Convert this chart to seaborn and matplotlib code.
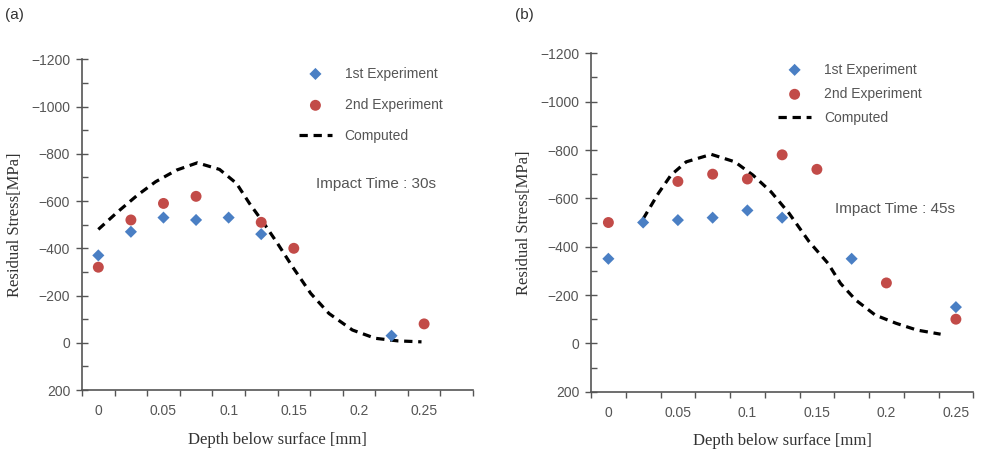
import numpy as np
import pandas as pd
import seaborn as sns
import matplotlib.pyplot as plt
from matplotlib.ticker import MultipleLocator, FixedLocator

# panel (a) - impact time 30s
depth_a_1st = [0, 0.025, 0.05, 0.075, 0.1, 0.125, 0.225]
stress_a_1st = [-370, -470, -530, -520, -530, -460, -30]
depth_a_2nd = [0, 0.025, 0.05, 0.075, 0.125, 0.15, 0.25]
stress_a_2nd = [-320, -520, -590, -620, -510, -400, -80]
depth_a_comp = [0, 0.015, 0.03, 0.044, 0.06, 0.076, 0.093, 0.106, 0.116, 0.127,
                0.137, 0.149, 0.163, 0.177, 0.195, 0.2125, 0.23, 0.248]
stress_a_comp = [-480, -555, -625, -682, -731, -762, -734, -675, -590, -506,
                 -425, -322, -209, -124, -54, -19, -8, -4]

# panel (b) - impact time 45s
depth_b_1st = [0, 0.025, 0.05, 0.075, 0.1, 0.125, 0.175, 0.25]
stress_b_1st = [-350, -500, -510, -520, -550, -520, -350, -150]
depth_b_2nd = [0, 0.05, 0.075, 0.1, 0.125, 0.15, 0.2, 0.25]
stress_b_2nd = [-500, -670, -700, -680, -780, -720, -250, -100]
depth_b_comp = [0.025, 0.036, 0.045, 0.056, 0.074, 0.091, 0.104, 0.117, 0.130,
                0.1445, 0.158, 0.167, 0.178, 0.192, 0.207, 0.222, 0.239]
stress_b_comp = [-515, -621, -696, -751, -782, -751, -696, -627, -538,
                 -420, -331, -248, -179, -117, -83, -55, -38]

x_labels = ['0', '0.05', '0.1', '0.15', '0.2', '0.25']

sns.set_style('white')
plt.rcParams['font.family'] = ['Liberation Sans', 'DejaVu Sans']

blue = '#4a7fc4'
red = '#c24b48'
gray_txt = '#555555'
axis_col = '#555555'

fig = plt.figure(figsize=(9.86, 4.53), dpi=100)
ax_a = fig.add_axes([0.0832, 0.139, 0.3965, 0.730])
ax_b = fig.add_axes([0.5994, 0.1353, 0.3877, 0.7470])


def draw(ax, d1, s1, d2, s2, dc, sc, xmax, impact, leg_anchor, legspace, imp_pos):
    comp = pd.DataFrame({'depth': dc, 'stress': sc})
    sns.lineplot(data=comp, x='depth', y='stress', ax=ax, color='black',
                 sort=False, estimator=None, label='Computed')
    line = ax.lines[-1]
    line.set_linewidth(2.3)
    line.set_dashes([2.6, 1.8])  # scaled by linewidth
    line.set_dash_capstyle('butt')
    sns.scatterplot(x=d1, y=s1, ax=ax, marker='D', s=38, color=blue,
                    edgecolor='none', label='1st Experiment', zorder=3)
    sns.scatterplot(x=d2, y=s2, ax=ax, marker='o', s=62, color=red,
                    edgecolor='none', label='2nd Experiment', zorder=4)

    ax.set_xlim(-0.0125, xmax)
    ax.set_ylim(200, -1200)
    ax.yaxis.set_major_locator(MultipleLocator(200))
    ax.yaxis.set_minor_locator(MultipleLocator(100))
    ax.set_xticks([0, 0.05, 0.1, 0.15, 0.2, 0.25])
    ax.set_xticklabels(x_labels)
    ax.xaxis.set_minor_locator(FixedLocator(np.arange(-0.0125, xmax + 0.001, 0.025)))
    ax.tick_params(axis='x', which='major', length=0, pad=10, labelsize=10, colors=gray_txt)
    ax.tick_params(axis='x', which='minor', length=4, width=1, direction='out',
                   color=axis_col, bottom=True)
    ax.tick_params(axis='y', which='major', length=9, width=1, direction='inout',
                   labelsize=10, colors=gray_txt, left=True, pad=4)
    ax.tick_params(axis='y', which='minor', length=4, width=1, direction='in',
                   color=axis_col, left=True)
    ax.tick_params(axis='both', which='major', color=axis_col)
    for side in ['top', 'right']:
        ax.spines[side].set_visible(False)
    for side in ['left', 'bottom']:
        ax.spines[side].set_color(axis_col)
        ax.spines[side].set_linewidth(1.2)

    ax.set_xlabel('Depth below surface [mm]', family='Liberation Serif',
                  fontsize=12, color='#333333', labelpad=10)
    ax.set_ylabel('Residual Stress[MPa]', family='Liberation Serif',
                  fontsize=12, color='#333333', labelpad=6)

    h, l = ax.get_legend_handles_labels()
    order = [l.index('1st Experiment'), l.index('2nd Experiment'), l.index('Computed')]
    leg = ax.legend([h[i] for i in order], [l[i] for i in order],
                    loc='upper left', bbox_to_anchor=leg_anchor,
                    bbox_transform=fig.transFigure, frameon=False, fontsize=10,
                    labelspacing=legspace, handlelength=2.4, handletextpad=0.9,
                    borderaxespad=0, borderpad=0)
    for t in leg.get_texts():
        t.set_color(gray_txt)
    fig.text(imp_pos[0], imp_pos[1], impact, fontsize=11, color=gray_txt,
             ha='left', va='center')


draw(ax_a, depth_a_1st, stress_a_1st, depth_a_2nd, stress_a_2nd,
     depth_a_comp, stress_a_comp, 0.2875, 'Impact Time : 30s',
     (0.303, 0.853), 1.25, (0.320, 1 - 184 / 453))
draw(ax_b, depth_b_1st, stress_b_1st, depth_b_2nd, stress_b_2nd,
     depth_b_comp, stress_b_comp, 0.2625, 'Impact Time : 45s',
     (0.789, 0.862), 0.75, (0.847, 1 - 209 / 453))

fig.text(0.005, 1 - 15 / 453, '(a)', fontsize=11, color='#333333', va='center')
fig.text(0.522, 1 - 15 / 453, '(b)', fontsize=11, color='#333333', va='center')

fig.savefig('out.png', dpi=100)
